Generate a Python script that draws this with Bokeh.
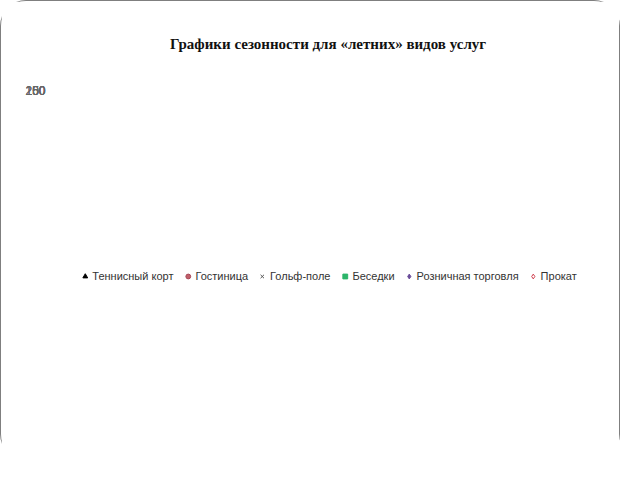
import math
from bokeh.plotting import figure
from bokeh.models import (Legend, LegendItem, FactorRange, Range1d, FixedTicker,
                          LabelSet, ColumnDataSource, Title)
from bokeh.embed import file_html
from bokeh.resources import INLINE

months = ["Январь", "Февраль", "Март", "Апрель", "Май", "Июнь", "Июль",
          "Август", "Сентябрь", "Октябрь", "Ноябрь", "Декабрь"]
tennis = [64, 64, 65, 101, 154, 155, 156, 151, 99, 66, 61, 59]
hotel = [70, 69, 70, 78, 119, 137, 140, 142, 128, 105, 80, 75]
golf = [0, 0, 0, 45, 204, 224, 237, 243, 204, 45, 0, 0]
besedki = [34, 33, 33, 81, 136, 168, 171, 175, 154, 106, 76, 34]
retail = [52, 52, 54, 62, 99, 155, 180, 181, 160, 93, 62, 50]
prokat = [71, 70, 73, 92, 114, 128, 132, 135, 132, 112, 80, 65]
y_ticks = [0, 50, 100, 150, 200, 250]

SERIF = "Liberation Serif"
W, H = 620, 460

p = figure(width=W, height=H, x_range=FactorRange(*months),
           y_range=Range1d(0, 250), output_backend="svg", toolbar_location=None,
           title=None, x_axis_location=None,
           min_border_left=62, min_border_right=29, min_border_top=89,
           min_border_bottom=123)
p.styles = {"border": "1.5px solid #7f7f7f", "border-radius": "26px"}

p.add_layout(Title(text=" ", text_font_size="20px"), "above")
p.add_layout(Title(text="Графики сезонности для «летних» видов услуг",
                   align="center", text_font=SERIF, text_font_size="15px",
                   text_font_style="bold", text_color="#111111"), "above")

p.outline_line_color = None
p.background_fill_color = "white"
p.border_fill_color = "white"

p.xgrid.grid_line_color = None
p.ygrid.grid_line_color = "#a6a6a6"
p.ygrid.grid_line_width = 1.2
p.yaxis.ticker = FixedTicker(ticks=y_ticks)
p.yaxis.axis_line_color = "#a6a6a6"
p.yaxis.major_tick_line_color = None
p.yaxis.minor_tick_line_color = None
p.yaxis.major_label_text_font_size = "12px"
p.yaxis.major_label_text_font_style = "normal"
p.yaxis.major_label_text_color = "#666666"
p.yaxis.major_label_standoff = 12

lab_src = ColumnDataSource(data=dict(m=months))
labels = LabelSet(x="m", y=-7, text="m", source=lab_src, angle=math.pi / 4,
                  x_offset=4, text_align="right", text_baseline="middle",
                  text_font=SERIF, text_font_size="12px", text_color="#404040")
p.add_layout(labels)

items = []

p.line(months, tennis, line_color="#339966", line_width=2)
r = p.scatter(months, tennis, marker="triangle", size=9, fill_color="black",
              line_color="black")
items.append(LegendItem(label="Теннисный корт", renderers=[r]))

p.line(months, hotel, line_color="#9e3a48", line_width=2)
r = p.scatter(months, hotel, marker="circle", size=7, fill_color="#c0606a",
              line_color="#a84656")
items.append(LegendItem(label="Гостиница", renderers=[r]))

p.line(months, golf, line_color="#555555", line_width=1)
r = p.scatter(months, golf, marker="x", size=10, line_color="#555555",
              line_width=1)
items.append(LegendItem(label="Гольф-поле", renderers=[r]))

p.line(months, besedki, line_color="#2f5f5f", line_width=2, line_dash="8 5")
r = p.scatter(months, besedki, marker="square", size=9, fill_color="#2cb56a",
              line_color="#2cb56a")
items.append(LegendItem(label="Беседки", renderers=[r]))

p.line(months, retail, line_color="#3c3c78", line_width=2, line_dash="5 3")
r = p.scatter(months, retail, marker="diamond", size=9, fill_color="#6a4c9a",
              line_color="#6a4c9a")
items.append(LegendItem(label="Розничная торговля", renderers=[r]))

p.line(months, prokat, line_color="#c0141e", line_width=2)
r = p.scatter(months, prokat, marker="diamond", size=10, fill_color="white",
              line_color="#d04050", line_width=1)
items.append(LegendItem(label="Прокат", renderers=[r]))

legend = Legend(items=items, orientation="horizontal", location="center",
                label_text_font_size="11px", label_text_font_style="normal",
                label_text_color="#333333", glyph_width=12, glyph_height=12,
                label_standoff=2, spacing=8, padding=2, margin=52,
                border_line_color=None, background_fill_alpha=0)
p.add_layout(legend, "below")

open("out.html", "w").write(file_html(p, INLINE))
